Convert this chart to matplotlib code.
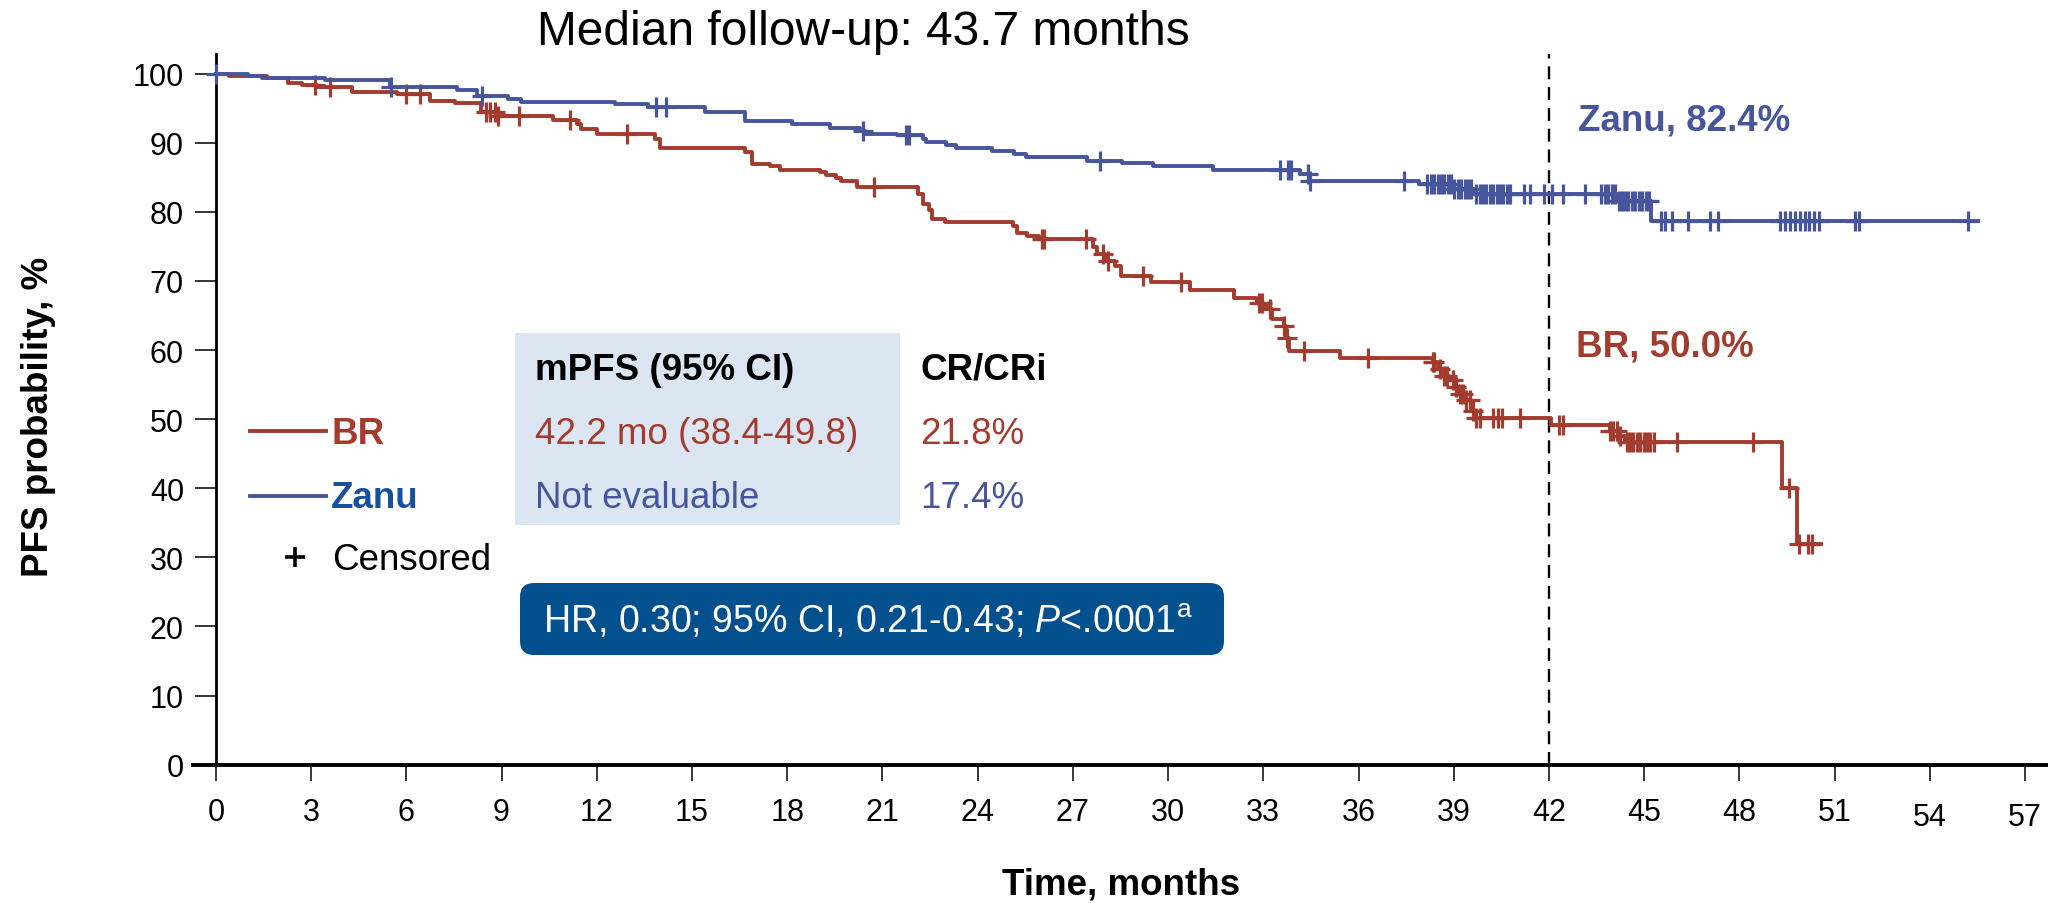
import numpy as np
import matplotlib
matplotlib.use("Agg")
import matplotlib.pyplot as plt
from matplotlib.lines import Line2D
from matplotlib.patches import Rectangle, FancyBboxPatch
from matplotlib.transforms import Affine2D, ScaledTranslation

plt.rcParams['font.family'] = ['Liberation Sans', 'DejaVu Sans']
plt.rcParams['mathtext.fontset'] = 'custom'
plt.rcParams['mathtext.rm'] = 'Liberation Sans'
plt.rcParams['mathtext.it'] = 'Liberation Sans:italic'

# ---- data ----
br_times = [0, 0.42, 1.6, 2.26, 2.7, 3.2, 4.29, 5.72, 6.75, 7.54,
            8.35, 8.85, 10.62, 11.37, 11.5, 12.0, 13.82, 13.98, 16.67, 16.89,
            17.47, 17.77, 19.02, 19.23, 19.55, 19.71, 20.19, 22.11, 22.27, 22.48,
            22.56, 22.96, 25.12, 25.25, 25.57, 25.94, 27.64, 27.75, 28.02, 28.34,
            28.5, 29.45, 30.68, 32.06, 32.81, 33.0, 33.1, 33.27, 33.64, 33.70,
            33.80, 35.4, 38.33, 38.49, 38.7, 38.86, 39.02, 39.18, 39.39, 39.55,
            39.66, 42.06, 43.92, 44.18, 44.4, 49.35, 49.8]
br_surv = [100, 99.6, 99.4, 98.7, 98.35, 98.0, 97.4, 97.1, 96.1, 95.7,
           94.4, 93.9, 93.3, 92.7, 92.0, 91.3, 90.5, 89.2, 88.6, 86.9,
           86.6, 86.1, 85.7, 85.3, 84.9, 84.4, 83.6, 82.6, 81.1, 80.3,
           79.0, 78.5, 77.9, 77.0, 76.5, 76.1, 74.9, 73.9, 72.9, 72.2,
           70.7, 69.8, 68.7, 67.5, 66.8, 66.4, 66.0, 64.5, 63.5, 61.8,
           59.8, 58.8, 58.2, 57.3, 56.3, 55.6, 54.6, 53.6, 52.7, 51.2,
           50.1, 49.1, 48.3, 47.6, 46.7, 40.0, 31.9]
br_last = 50.56
br_censor = [3.11, 3.6, 5.98, 6.43, 8.5, 8.65, 8.78, 8.9, 9.55, 11.15, 12.96,
             20.75, 26.02, 26.1, 27.4, 27.95, 28.1, 29.21, 30.41, 32.86, 32.95,
             33.2, 33.65, 33.75, 34.28, 36.3, 38.33, 38.38, 38.55, 38.7, 38.8,
             38.96, 39.07, 39.18, 39.28, 39.39, 39.5, 39.6, 39.71, 39.82, 40.25,
             40.4, 40.51, 41.1, 42.33, 42.43, 43.92, 44.03, 44.13, 44.24, 44.45,
             44.55, 44.66, 44.77, 44.87, 44.98, 45.08, 45.19, 45.3, 46.02, 48.43,
             49.56, 49.88, 50.17, 50.3]

zanu_times = [0, 1.02, 1.46, 3.43, 5.5, 7.59, 8.23, 9.19, 9.61, 12.59,
              13.6, 15.42, 16.67, 18.16, 19.34, 20.29, 20.45, 21.47, 22.27, 22.37,
              23.01, 23.33, 24.45, 25.14, 25.51, 27.46, 28.55, 29.51, 31.42, 34.17,
              34.47, 37.9, 38.97, 39.66, 44.13, 45.2]
zanu_surv = [100, 99.7, 99.4, 99.1, 98.0, 97.7, 96.7, 96.3, 95.9, 95.6,
             95.1, 94.5, 93.1, 92.7, 92.2, 91.7, 91.3, 91.1, 90.5, 90.05,
             89.7, 89.3, 88.75, 88.4, 88.0, 87.4, 87.0, 86.7, 86.1, 85.5,
             84.4, 84.0, 83.3, 82.6, 81.5, 78.7]
zanu_last = 55.5
zanu_censor = [0, 5.52, 8.4, 13.87, 14.17, 20.4, 21.75, 21.85, 27.86, 33.51,
               33.77, 33.88, 34.41, 34.47, 37.42, 38.17, 38.27, 38.38, 38.49, 38.6,
               38.7, 38.81, 38.91, 39.02, 39.13, 39.23, 39.34, 39.45, 39.55, 39.71,
               39.82, 39.92, 40.03, 40.14, 40.24, 40.35, 40.46, 40.56, 40.67, 40.78,
               41.2, 41.4, 41.85, 42.1, 42.43, 43.12, 43.65, 43.75, 43.86, 43.97,
               44.07, 44.19, 44.29, 44.4, 44.5, 44.61, 44.72, 44.82, 44.93, 45.04,
               45.14, 45.52, 45.66, 45.89, 46.37, 47.08, 47.33, 49.28, 49.45, 49.6,
               49.75, 49.9, 50.05, 50.2, 50.35, 50.51, 51.65, 51.75, 55.21]

x_ticks = list(range(0, 58, 3))
y_ticks = list(range(0, 101, 10))
landmark = 42

RED = '#A33B2F'
BLUE = '#46559C'
ZANU_TXT = '#17519C'
HR_BOX = '#03508F'
TABLE_BG = '#DCE6F2'

W, H = 2048, 904
fig = plt.figure(figsize=(W / 100, H / 100), dpi=100)
# pixel coords measured from the top-left corner
px = Affine2D().scale(1 / W, -1 / H).translate(0, 1) + fig.transFigure

ax = fig.add_axes([193 / W, 1 - 765.6 / H, (W - 193) / W, (765.6 - 55) / H])
ax.set_xlim(-0.72, 57.72)
ax.set_ylim(0, 102.84)


def km(ax, times, surv, last, censor, color):
    t = np.array(times)
    s = np.array(surv)
    ax.step(np.append(t, last), np.append(s, s[-1]), where='post',
            color=color, lw=2.8, zorder=3)
    c = np.array(censor)
    cy = s[np.searchsorted(t, c, side='right') - 1]
    ax.plot(c, cy, ls='none', marker='+', ms=14, mew=2.3, color=color,
            zorder=3, clip_on=False)


km(ax, br_times, br_surv, br_last, br_censor, RED)
km(ax, zanu_times, zanu_surv, zanu_last, zanu_censor, BLUE)

ax.axvline(landmark, 0, 1, color='black', lw=1.7, dashes=(5.5, 3.3), zorder=2)

for side in ('top', 'right'):
    ax.spines[side].set_visible(False)
ax.spines['left'].set_position(('data', 0))
ax.spines['left'].set_linewidth(2)
ax.spines['bottom'].set_linewidth(2.8)

ax.set_xticks(x_ticks, labels=[str(v) for v in x_ticks])
ax.set_yticks(y_ticks, labels=[str(v) for v in y_ticks])
ax.tick_params(axis='x', length=11.5, width=1.1, pad=11.5, labelsize=22)
ax.tick_params(axis='y', length=15, width=1.1, pad=8, labelsize=22)
for tick in ax.xaxis.get_major_ticks():
    if tick.label1.get_text() in ('54', '57'):
        tick.label1.set_transform(tick.label1.get_transform() +
                                  ScaledTranslation(0, -5 / 100, fig.dpi_scale_trans))

# ---- titles and axis labels ----
fig.text(863, 45, 'Median follow-up: 43.7 months', transform=px,
         ha='center', va='baseline', fontsize=34.5)
fig.text(39, 417, 'PFS probability, %', transform=px, rotation=90,
         ha='center', va='center', fontsize=26.5, fontweight='bold')
fig.text(1121, 895, 'Time, months', transform=px, ha='center', va='baseline',
         fontsize=26.5, fontweight='bold')

# ---- landmark annotations ----
fig.text(1578, 131, 'Zanu, 82.4%', transform=px, color=BLUE,
         fontsize=26.5, fontweight='bold', va='baseline')
fig.text(1576, 357, 'BR, 50.0%', transform=px, color=RED,
         fontsize=26.5, fontweight='bold', va='baseline')

# ---- legend ----
fig.add_artist(Line2D([250, 326], [432, 432], transform=px, color=RED, lw=2.8))
fig.add_artist(Line2D([250, 326], [497, 497], transform=px, color=BLUE, lw=2.8))
fig.add_artist(Line2D([295], [558], transform=px, color='black', marker='+',
                      ms=14, mew=2.6, ls='none'))
fig.text(331, 444, 'BR', transform=px, color=RED, fontsize=26.5,
         fontweight='bold', va='baseline')
fig.text(331, 508, 'Zanu', transform=px, color=ZANU_TXT, fontsize=26.5,
         fontweight='bold', va='baseline')
fig.text(332, 570.5, 'Censored', transform=px, color='black', fontsize=26.5,
         va='baseline')

# ---- summary table ----
fig.add_artist(Rectangle((515, 334), 385, 192, transform=px,
                         facecolor=TABLE_BG, edgecolor='none', zorder=1))
fig.text(535, 380, 'mPFS (95% CI)', transform=px, fontsize=26.5,
         fontweight='bold', va='baseline', zorder=2)
fig.text(920, 380, 'CR/CRi', transform=px, fontsize=26.5,
         fontweight='bold', va='baseline', zorder=2)
fig.text(535, 444, '42.2 mo (38.4-49.8)', transform=px, color=RED,
         fontsize=26.5, va='baseline', zorder=2)
fig.text(920, 444, '21.8%', transform=px, color=RED,
         fontsize=26.5, va='baseline', zorder=2)
fig.text(535, 508, 'Not evaluable', transform=px, color=BLUE,
         fontsize=26.5, va='baseline', zorder=2)
fig.text(920, 508, '17.4%', transform=px, color=BLUE,
         fontsize=26.5, va='baseline', zorder=2)

# ---- hazard ratio box ----
fig.add_artist(FancyBboxPatch((520, 584), 704, 72, transform=px,
                              boxstyle='round,pad=0,rounding_size=14',
                              facecolor=HR_BOX, edgecolor='none', zorder=1))
fig.text(543, 633, r'HR, 0.30; 95% CI, 0.21-0.43; $\mathit{P}$<.0001$^{\mathrm{a}}$',
         transform=px, color='white', fontsize=27, va='baseline', zorder=2)

fig.savefig('out.png', dpi=100)
